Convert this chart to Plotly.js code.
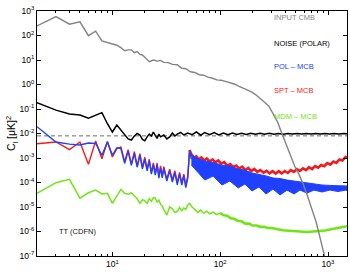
<!DOCTYPE html>
<html><head><meta charset="utf-8">
<script src="https://cdn.plot.ly/plotly-3.0.1.min.js"></script>
<style>html,body{margin:0;padding:0;background:#fff}#chart{width:350px;height:272px}</style>
</head><body><div id="chart"></div>
<script>
// multipole ell and C_l [muK^2]
const ell_cmb = [2,3,4,5,6,7,8,9,10,11,12,13,14,15,16,17,18,19,20,22,24,26,28,30,33,36,40,44,48,53,58,64,70,77,85,93,102,112,123,135,148,162,178,195,214,235,258,283,310,340,372,408,447,490,537,588,645,707,775,850,930,1000];
const cl_cmb = [245,590,290,360,98,150,60,52,46,40,32,24,26,26,20,22,17,16,13,8.5,10,9.0,9.6,8.0,7.8,6.6,6.4,4.6,4.4,3.3,3.1,2.5,2.4,2.0,1.8,1.55,1.5,1.35,1.2,1.05,0.85,0.72,0.6,0.5,0.38,0.28,0.19,0.13,0.063,0.030,0.0105,0.0037,0.0012,4.7e-4,2.2e-4,8.7e-5,2.8e-5,9.1e-6,2.5e-6,4.9e-7,1.0e-7,2.6e-8];

const ell_noise = [2,3,4,5,6,7,8,9,10,11,12,13,14,15,16,17,18,19,20,21,22,23,24,25,26,27,28,30,32,34,36,38,40,43,46,50,55,60,66,72,80,88,97,107,118,130,143,158,174,192,212,234,258,285,315,348,384,424,468,517,571,630,696,768,848,936,1034,1141,1260,1391,1500];
const cl_noise = [0.18,0.09,0.063,0.057,0.042,0.057,0.071,0.025,0.0115,0.022,0.014,0.0087,0.006,0.0054,0.0079,0.010,0.0087,0.0057,0.0051,0.0073,0.0095,0.0079,0.0115,0.0083,0.0063,0.0095,0.0073,0.0087,0.006,0.0073,0.0105,0.0079,0.0095,0.011,0.0087,0.0105,0.009,0.0115,0.0085,0.011,0.009,0.011,0.0088,0.0105,0.009,0.0105,0.0092,0.0103,0.0092,0.0103,0.0093,0.0102,0.0093,0.0102,0.0094,0.0101,0.0094,0.0101,0.0095,0.010,0.0095,0.010,0.0095,0.010,0.0095,0.010,0.0095,0.010,0.0096,0.010,0.0098];

const ell_ref = [2,1500];
const cl_ref = [8e-3,8e-3];

const ell_spt_low = [2,3,4,5,6,7,8,9,10,11,12,13,14,15,16,17,18,19,20,21,22,23,24,25,26,27,28,29,30,32,34,36,38,40,42,44,46,48,50,52];
const cl_spt_low = [3.8e-3,4.5e-3,2.2e-3,4.5e-3,5.5e-4,5.0e-3,9.3e-4,4.7e-3,1.1e-3,2.4e-3,
2.8e-3,7.1e-4,2.2e-3,5.6e-4,1.8e-3,4.7e-4,1.5e-3,4.2e-4,1.07e-3,3.5e-4,
8.9e-4,2.5e-4,6.3e-4,2.3e-4,6.2e-4,1.8e-4,4.8e-4,1.8e-4,4.4e-4,
1.35e-4,3.5e-4,1.26e-4,3.0e-4,9.8e-5,2.6e-4,9.5e-5,2.2e-4,7.4e-5,1.8e-4,
2.1e-3];
const ell_spt_high = [52,54,57,60,63,67,71,75,80,85,90,96,102,109,116,124,132,141,150,160,171,182,194,207,221,236,252,269,287,306,327,349,372,397,424,452,482,515,549,586,625,667,712,760,811,865,923,985,1051,1121,1196,1276,1362,1453,1500];
const cl_spt_high = [2.1e-3,
1.41e-3,1.02e-3,1.17e-3,8.9e-4,1.05e-3,7.9e-4,9.5e-4,7.2e-4,8.7e-4,6.6e-4,
7.9e-4,5.9e-4,6.8e-4,4.9e-4,5.6e-4,4.2e-4,4.9e-4,3.7e-4,4.4e-4,3.2e-4,
3.9e-4,2.95e-4,3.55e-4,2.7e-4,3.2e-4,2.5e-4,3.0e-4,2.35e-4,2.9e-4,2.3e-4,
2.9e-4,2.35e-4,2.95e-4,2.45e-4,3.2e-4,2.7e-4,3.5e-4,2.95e-4,3.8e-4,3.2e-4,
4.2e-4,3.55e-4,4.7e-4,4.0e-4,5.2e-4,4.6e-4,6.2e-4,5.4e-4,7.2e-4,6.3e-4,
8.7e-4,7.9e-4,1.1e-3,1.05e-3];

const ell_pol = [2,3,4,5,6,7,8,9,10,11,12,13,14,15,16,17,18,19,20,21,22,23,24,25,26,27,28,29,30,32,34,36,38,40,42,44,46,48,50,52,54];
const cl_pol = [1.9e-2,4.5e-3,3.7e-3,3.4e-3,4.1e-3,3.9e-3,1.3e-3,4.5e-3,1.3e-3,2.6e-3,
2.4e-3,6.0e-4,1.9e-3,5.0e-4,1.5e-3,4.2e-4,1.3e-3,3.6e-4,9.0e-4,3.0e-4,
7.6e-4,2.2e-4,5.3e-4,2.0e-4,5.2e-4,1.5e-4,4.0e-4,1.55e-4,3.7e-4,
1.15e-4,3.0e-4,1.05e-4,2.5e-4,8.0e-5,2.2e-4,7.8e-5,1.9e-4,6.2e-5,1.5e-4,
2.0e-3,9.0e-4];
const ell_pol_band = [54,60,72,86,104,123,147,170,197,229,266,309,359,417,484,550,638,741,879,1042,1236,1466,1500];
const cl_pol_upper = [1.45e-3,1.0e-3,7.6e-4,6.6e-4,5.1e-4,4.7e-4,3.55e-4,3.2e-4,2.45e-4,2.15e-4,1.86e-4,1.53e-4,1.45e-4,1.26e-4,1.15e-4,1.05e-4,9.5e-5,8.7e-5,7.9e-5,7.6e-5,7.2e-5,7.2e-5,7.2e-5];
const cl_pol_lower = [5.2e-4,3.2e-4,1.26e-4,1.84e-4,7.9e-5,1.15e-4,6.0e-5,8.7e-5,4.5e-5,6.6e-5,3.4e-5,5.4e-5,3.1e-5,4.9e-5,3.4e-5,4.9e-5,3.7e-5,4.9e-5,4.1e-5,4.9e-5,4.3e-5,4.9e-5,4.7e-5];

const ell_mdm_low = [2,3,4,5,6,7,8,9,10,11,12,13,14,15,16,17,18,19,20,21,22,23,24,25,26,27,28,29,30,32,34,36,38,40,42,44,46,48,50,52,55,58,62,66,70,75,80,86,92,100];
const cl_mdm_low = [3.6e-5,9.8e-5,1.35e-4,2.3e-5,3.8e-5,4.9e-5,3.4e-5,3.6e-5,1.4e-5,3.0e-5,
5.2e-5,3.6e-5,3.3e-5,3.8e-5,3.0e-5,2.2e-5,1.4e-5,2.0e-5,1.8e-5,1.4e-5,
2.2e-5,1.7e-5,2.4e-5,2.3e-5,1.6e-5,1.9e-5,1.3e-5,1.1e-5,8.0e-6,
4.7e-6,1.0e-5,8.5e-6,6.0e-6,6.5e-6,9.5e-6,7.0e-6,9.0e-6,8.0e-6,1.2e-5,
1.4e-5,1.0e-5,8.0e-6,6.0e-6,7.5e-6,5.5e-6,6.8e-6,5.3e-6,6.2e-6,5.0e-6,
5.6e-6];
const ell_mdm_high = [100,108,116,125,135,146,158,171,185,200,217,235,255,276,300,325,352,382,414,450,490,535,585,640,700,770,850,940,1040,1150,1270,1400,1500];
const cl_mdm_high = [5.6e-6,4.6e-6,4.4e-6,3.5e-6,3.3e-6,2.7e-6,2.6e-6,2.1e-6,2.1e-6,1.75e-6,
1.75e-6,1.55e-6,1.55e-6,1.38e-6,1.38e-6,1.25e-6,1.2e-6,1.12e-6,1.08e-6,1.05e-6,
1.02e-6,1.0e-6,9.8e-7,9.6e-7,9.8e-7,1.0e-6,1.05e-6,1.1e-6,1.2e-6,1.3e-6,
1.4e-6,1.55e-6,1.65e-6];

const xTickVals = [10,100,1000];
const xTickText = ['10<sup>1</sup>','10<sup>2</sup>','10<sup>3</sup>'];
const xMinor = [2,3,4,5,6,7,8,9,20,30,40,50,60,70,80,90,200,300,400,500,600,700,800,900];
const yTickVals = [1e-7,1e-6,1e-5,1e-4,1e-3,1e-2,1e-1,1,10,100,1000];
const yTickText = ['10<sup>-7</sup>','10<sup>-6</sup>','10<sup>-5</sup>','10<sup>-4</sup>','10<sup>-3</sup>','10<sup>-2</sup>','10<sup>-1</sup>','10<sup>0</sup>','10<sup>1</sup>','10<sup>2</sup>','10<sup>3</sup>'];

const labels = ['INPUT CMB','NOISE (POLAR)','POL \u2013 MCB','SPT \u2013 MCB','MDM \u2013 MCB'];
const C_GREY='#838383', C_BLUE='#2040ff', C_RED='#f21a1a', C_GREEN='#6ee614';

const traces = [
  {x:ell_ref, y:cl_ref, mode:'lines', line:{color:'#6a6a6a', width:1, dash:'4px,3px'}},
  {x:ell_noise, y:cl_noise, mode:'lines', line:{color:'#000', width:1.5}},
  {x:ell_spt_low, y:cl_spt_low, mode:'lines', line:{color:C_RED, width:1.4}},
  {x:ell_spt_high, y:cl_spt_high, mode:'lines', line:{color:C_RED, width:2.6}},
  {x:ell_pol, y:cl_pol, mode:'lines', line:{color:C_BLUE, width:1.4}},
  {x:ell_pol_band, y:cl_pol_lower, mode:'lines', line:{color:C_BLUE, width:1}},
  {x:ell_pol_band, y:cl_pol_upper, mode:'lines', fill:'tonexty', fillcolor:C_BLUE, line:{color:C_BLUE, width:1}},
  {x:ell_mdm_low, y:cl_mdm_low, mode:'lines', line:{color:C_GREEN, width:1.5}},
  {x:ell_mdm_high, y:cl_mdm_high, mode:'lines', line:{color:C_GREEN, width:2.6}},
  {x:ell_cmb, y:cl_cmb, mode:'lines', line:{color:C_GREY, width:1.4}}
];

const axisCommon = {
  type:'log', ticks:'inside', ticklen:4, tickcolor:'#000', tickwidth:1,
  mirror:'allticks', showline:true, linecolor:'#000', linewidth:1,
  showgrid:false, zeroline:false, tickfont:{size:8.5, color:'#000'}
};

const layout = {
  width:350, height:272,
  margin:{l:37, r:3, t:11, b:16},
  paper_bgcolor:'#fff', plot_bgcolor:'#fff',
  font:{family:'Liberation Sans, Arial, sans-serif', color:'#000'},
  showlegend:false,
  xaxis: Object.assign({}, axisCommon, {
    range:[Math.log10(2), Math.log10(1500)],
    tickmode:'array', tickvals:xTickVals, ticktext:xTickText,
    minor:{tickmode:'array', tickvals:xMinor, ticks:'inside', ticklen:2, tickcolor:'#000', showgrid:false}
  }),
  yaxis: Object.assign({}, axisCommon, {
    range:[-7,3],
    tickmode:'array', tickvals:yTickVals, ticktext:yTickText,
    title:{text:'C<sub>l</sub> [\u03bcK]<sup>2</sup>', font:{size:10.5, color:'#000'}, standoff:1}
  }),
  annotations:[
    {text:labels[0], x:0.758, y:0.974, color:C_GREY},
    {text:labels[1], x:0.758, y:0.868, color:'#000'},
    {text:labels[2], x:0.758, y:0.773, color:C_BLUE},
    {text:labels[3], x:0.758, y:0.675, color:C_RED},
    {text:labels[4], x:0.758, y:0.569, color:C_GREEN},
    {text:'TT (CDFN)', x:0.064, y:0.099, color:'#111'}
  ].map(a => ({text:a.text, x:a.x, y:a.y, xref:'paper', yref:'paper', xanchor:'left', yanchor:'middle', showarrow:false, font:{size:7.5, color:a.color}}))
};

Plotly.newPlot('chart', traces, layout, {staticPlot:true, displayModeBar:false});
</script></body></html>
